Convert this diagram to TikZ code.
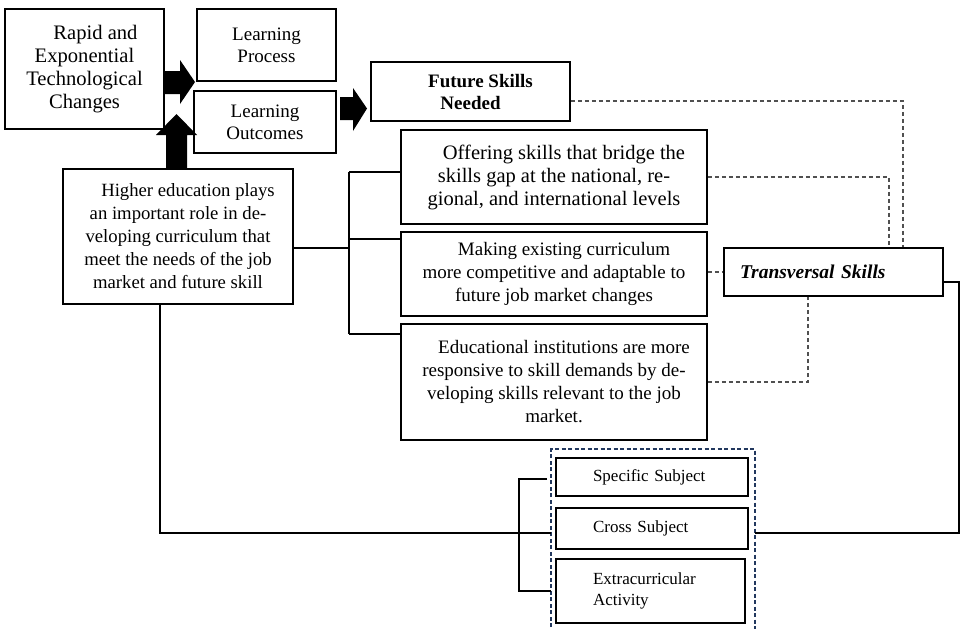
\documentclass[tikz,border=0pt]{standalone}
\usepackage{fontspec}
\setmainfont{Liberation Serif}
\definecolor{navy}{HTML}{22385E}
\definecolor{dgray}{HTML}{505050}
\begin{document}
\begin{tikzpicture}[x=1pt,y=-1pt,
  box/.style={draw=black,line width=1.9pt,inner sep=0pt,align=center},
  conn/.style={draw=black,line width=1.7pt},
  dconn/.style={draw=dgray,line width=1.1pt,dash pattern=on 4pt off 3pt},
  blockarrow/.style={fill=black,draw=none},
  fA/.style={font=\fontsize{20.6}{23}\selectfont},
  fB/.style={font=\fontsize{19}{22}\selectfont},
  fC/.style={font=\fontsize{18.7}{23}\selectfont},
  fD/.style={font=\fontsize{19}{23}\selectfont},
  fE/.style={font=\fontsize{17}{21.5}\selectfont}]
\useasboundingbox (0,0) rectangle (961,629);

% nodes
\node[box,fA,minimum width=159pt,minimum height=120pt] (rapid) at (84.5,69)
  {\hspace*{22pt}Rapid and\\Exponential\\Technological\\Changes};
\node[box,fB,minimum width=139pt,minimum height=72pt] (lproc) at (266.5,45)
  {Learning\\Process};
\node[box,fB,minimum width=142pt,minimum height=62pt] (lout) at (265,122)
  {Learning\\Outcomes};
\node[box,fB,font=\fontsize{19}{22}\selectfont\bfseries,minimum width=199pt,minimum height=59pt] (future) at (470.5,91.5)
  {\hspace*{20pt}Future Skills\\Needed};
\node[box,fC,minimum width=230pt,minimum height=135pt] (higher) at (178,236.5)
  {\hspace*{20pt}Higher education plays\\an important role in de-\\veloping curriculum that\\meet the needs of the job\\market and future skill};
\node[box,font=\fontsize{20.5}{23}\selectfont,minimum width=306pt,minimum height=94pt] (offer) at (554,177)
  {\hspace*{20pt}Offering skills that bridge the\\skills gap at the national, re-\\gional, and international levels};
\node[box,fD,minimum width=306pt,minimum height=84pt] (making) at (554,274)
  {\hspace*{20pt}Making existing curriculum\\more competitive and adaptable to\\future job market changes};
\node[box,fD,minimum width=306pt,minimum height=116pt] (edu) at (554,382)
  {\hspace*{20pt}Educational institutions are more\\responsive to skill demands by de-\\veloping skills relevant to the job\\market.};
\node[box,font=\fontsize{19.5}{22}\selectfont\bfseries\itshape,align=left,inner xsep=16pt,text width=187pt,minimum height=48pt] (trans) at (833.5,272)
  {Transversal Skills};
\node[box,fE,align=left,inner xsep=37pt,text width=118pt,minimum height=38pt] (spec) at (652,477)
  {Specific Subject};
\node[box,fE,align=left,inner xsep=37pt,text width=118pt,minimum height=41pt] (cross) at (652,528.5)
  {Cross Subject};
\node[box,fE,align=left,inner xsep=37pt,text width=115pt,minimum height=64pt] (extra) at (650.5,591)
  {Extracurricular\\Activity};

% group (dashed navy frame)
\coordinate (gtl) at (551,449);
\coordinate (gtr) at (755,449);
\draw[navy,line width=1.3pt,dash pattern=on 4pt off 2.5pt] (551,640) -- (gtl) -- (gtr) -- (755,640);
\coordinate (gw) at (551,533);
\coordinate (ge) at (755,533);

% block arrows
\fill[blockarrow] (164,71) -- (180,71) -- (180,60) -- (195,82) -- (180,104) -- (180,94) -- (164,94) -- cycle;
\fill[blockarrow] (166,168) -- (166,135) -- (156,135) -- (176.5,114) -- (197,135) -- (187,135) -- (187,168) -- cycle;
\fill[blockarrow] (340,97) -- (353,97) -- (353,88) -- (367,108.5) -- (353,131) -- (353,120) -- (340,120) -- cycle;

% bracket from higher education
\coordinate (b0) at (349,248);
\coordinate (b1) at (349,172);
\coordinate (b2) at (349,239);
\coordinate (b3) at (349,334);
\draw[conn] (higher.east |- b0) -- (b0);
\draw[conn] (b1) -- (b3);
\draw[conn] (b1) -- (b1 -| offer.west);
\draw[conn] (b2) -- (b2 -| making.west);
\draw[conn] (b3) -- (b3 -| edu.west);

% dashed links to transversal skills
\coordinate (d1) at (903,101);
\coordinate (d2) at (889,177);
\coordinate (d3) at (808,382);
\draw[dconn] (future.east |- d1) -- (d1) -- (d1 |- trans.north);
\draw[dconn] (offer.east |- d2) -- (d2) -- (d2 |- trans.north);
\draw[dconn] (making.east |- trans.west) -- (trans.west);
\draw[dconn] (edu.east |- d3) -- (d3) -- (d3 |- trans.south);

% solid links to group
\coordinate (r1) at (959,282);
\draw[conn] (trans.east |- r1) -- (r1) -- (r1 |- ge) -- (ge);
\coordinate (l1) at (160,533);
\draw[conn] (l1 |- higher.south) -- (l1) -- (gw);

% inner bracket
\coordinate (k1) at (519,479);
\coordinate (k2) at (519,591);
\draw[conn] (547,479) -- (k1) -- (k2) -- (551,591);
\end{tikzpicture}
\end{document}
